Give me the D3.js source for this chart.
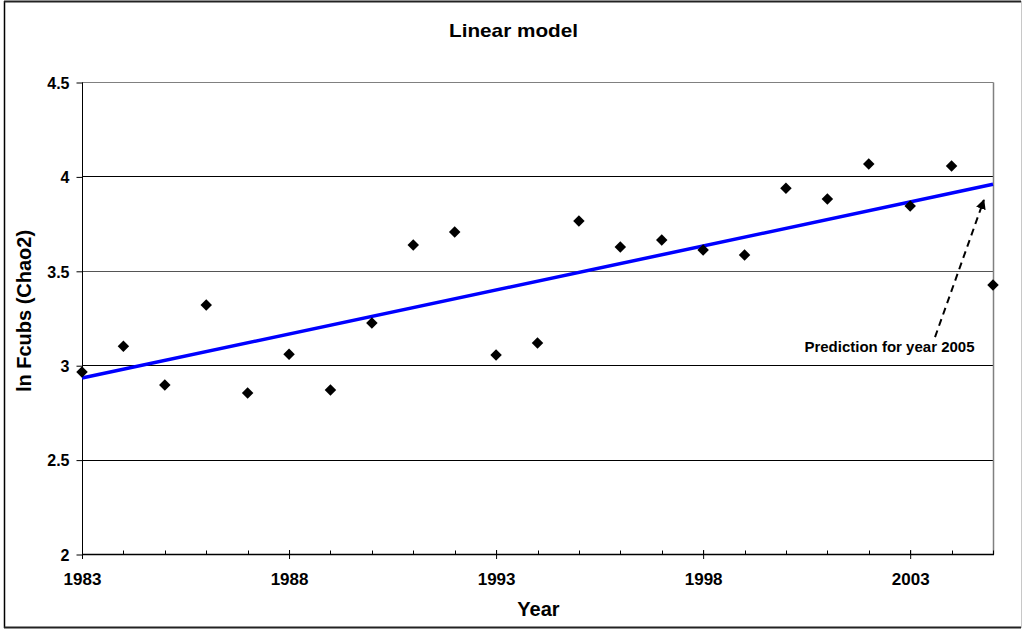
<!DOCTYPE html>
<html>
<head>
<meta charset="utf-8">
<script src="https://cdn.jsdelivr.net/npm/d3@7"></script>
<style>
  html, body { margin: 0; padding: 0; background: #fff; }
  svg { display: block; }
  text { font-family: "Liberation Sans", Arial, sans-serif; font-weight: bold; fill: #000; }
</style>
</head>
<body>
<svg id="chart" width="1023" height="630"></svg>
<script>
// ---- data ----
const years = [1983,1984,1985,1986,1987,1988,1989,1990,1991,1992,1993,1994,1995,1996,1997,1998,1999,2000,2001,2002,2003,2004,2005];
const lnFcubs = [2.964,3.100,2.895,3.319,2.853,3.058,2.869,3.224,3.637,3.706,3.054,3.118,3.764,3.626,3.663,3.610,3.584,3.937,3.880,4.066,3.843,4.055,3.425];
const trendYears = [1983, 2005];
const trendValues = [2.932, 3.958];
const yTicks = [2, 2.5, 3, 3.5, 4, 4.5];
const yTickLabels = ["2", "2.5", "3", "3.5", "4", "4.5"];
const xMajorTicks = [1983, 1988, 1993, 1998, 2003];
const xTickLabels = ["1983", "1988", "1993", "1998", "2003"];
const titleText = "Linear model";
const xTitle = "Year";
const yTitle = "ln Fcubs (Chao2)";
const noteText = "Prediction for year 2005";
const noteArrow = [[2003.6, 3.149], [2004.78, 3.875]];
const noteAnchor = [2002.5, 3.07];

// ---- layout ----
const svg = d3.select("#chart");
const L = 82, R = 993, T = 82, B = 554;
const x = d3.scaleLinear().domain([1983, 2005]).range([L, R]);
const y = d3.scaleLinear().domain([2, 4.5]).range([B, T]);

// outer frame
svg.append("line").attr("x1", 4.5).attr("y1", 1).attr("x2", 4.5).attr("y2", 628).attr("stroke", "#000").attr("stroke-width", 1.5);
svg.append("line").attr("x1", 4).attr("y1", 1.5).attr("x2", 1021).attr("y2", 1.5).attr("stroke", "#222").attr("stroke-width", 2);
svg.append("line").attr("x1", 4).attr("y1", 627.5).attr("x2", 1021).attr("y2", 627.5).attr("stroke", "#222").attr("stroke-width", 2);
svg.append("line").attr("x1", 1021.5).attr("y1", 1).attr("x2", 1021.5).attr("y2", 628).attr("stroke", "#c8c8c8").attr("stroke-width", 1);

// gridlines
svg.append("g").selectAll("line").data(yTicks.filter(d => d > 2 && d < 4.5)).join("line")
  .attr("x1", L).attr("x2", R)
  .attr("y1", d => Math.round(y(d)) + 0.5).attr("y2", d => Math.round(y(d)) + 0.5)
  .attr("stroke", d => d === 3.5 ? "#555" : "#000").attr("stroke-width", 1);
// top and right plot border
svg.append("line").attr("x1", L).attr("x2", R + 0.5).attr("y1", Math.round(y(4.5)) + 0.5).attr("y2", Math.round(y(4.5)) + 0.5).attr("stroke", "#808080");
svg.append("line").attr("x1", R + 0.5).attr("x2", R + 0.5).attr("y1", Math.round(y(4.5)) + 0.5).attr("y2", B + 0.5).attr("stroke", "#808080").attr("stroke-width", 1.5);

// y axis
const yAxis = d3.axisLeft(y).tickValues(yTicks).tickFormat((d, i) => yTickLabels[i]).tickSize(6).tickPadding(7);
const gy = svg.append("g").attr("transform", `translate(${L + 0.5},0.5)`).call(yAxis);
gy.select(".domain").attr("stroke", "#000").attr("d", `M0,${T}V${B}`);
gy.selectAll(".tick line").attr("stroke", "#000");
gy.selectAll(".tick text").attr("font-size", 16).attr("font-family", "Liberation Sans, Arial, sans-serif").attr("font-weight", "bold").attr("fill", "#000").attr("dy", "0.36em");

// x axis: minor ticks inside
const gx = svg.append("g").attr("transform", `translate(0,${B + 0.5})`);
gx.append("line").attr("x1", L).attr("x2", R + 1).attr("y1", 0).attr("y2", 0).attr("stroke", "#000").attr("stroke-width", 1.5);
gx.selectAll(".minor").data(years).join("line").attr("class", "minor")
  .attr("x1", d => Math.round(x(d)) + 0.5).attr("x2", d => Math.round(x(d)) + 0.5)
  .attr("y1", -4).attr("y2", 0).attr("stroke", "#000");
const xAxis = d3.axisBottom(x).tickValues(xMajorTicks).tickFormat((d, i) => xTickLabels[i]).tickSizeInner(5).tickSizeOuter(0).tickPadding(14);
const gxa = svg.append("g").attr("transform", `translate(0,${B})`).call(xAxis);
gxa.select(".domain").remove();
gxa.selectAll(".tick line").attr("stroke", "#000").attr("y1", -4).attr("y2", 5);
gxa.selectAll(".tick text").attr("font-size", 17).attr("font-family", "Liberation Sans, Arial, sans-serif").attr("font-weight", "bold").attr("fill", "#000");

// trend line
svg.append("path")
  .datum(trendYears.map((d, i) => [d, trendValues[i]]))
  .attr("d", d3.line().x(d => x(d[0])).y(d => y(d[1])))
  .attr("fill", "none").attr("stroke", "#0000ff").attr("stroke-width", 3.5);

// points
svg.append("g").selectAll("path").data(years.map((d, i) => [d, lnFcubs[i]])).join("path")
  .attr("d", d3.symbol(d3.symbolSquare, 66))
  .attr("transform", d => `translate(${x(d[0])},${y(d[1])}) rotate(45)`)
  .attr("fill", "#000");

// annotation arrow
const defs = svg.append("defs");
defs.append("marker").attr("id", "ah").attr("viewBox", "0 0 10 10").attr("refX", 9).attr("refY", 5)
  .attr("markerWidth", 5).attr("markerHeight", 5).attr("markerUnits", "strokeWidth").attr("orient", "auto")
  .append("path").attr("d", "M0,0L10,5L0,10Z").attr("fill", "#000");
svg.append("line")
  .attr("x1", x(noteArrow[0][0])).attr("y1", y(noteArrow[0][1]))
  .attr("x2", x(noteArrow[1][0])).attr("y2", y(noteArrow[1][1]))
  .attr("stroke", "#000").attr("stroke-width", 2).attr("stroke-dasharray", "7,5")
  .attr("marker-end", "url(#ah)");
svg.append("text").attr("x", x(noteAnchor[0])).attr("y", y(noteAnchor[1]))
  .attr("text-anchor", "middle").attr("font-size", 15).text(noteText);

// titles
svg.append("text").attr("x", 513.5).attr("y", 37).attr("text-anchor", "middle")
  .attr("font-size", 19).attr("textLength", 129).attr("lengthAdjust", "spacingAndGlyphs").text(titleText);
svg.append("text").attr("x", (L + R) / 2 + 1).attr("y", 616).attr("text-anchor", "middle")
  .attr("font-size", 20).text(xTitle);
svg.append("text").attr("transform", `translate(31,${(T + B) / 2 - 7}) rotate(-90)`).attr("text-anchor", "middle")
  .attr("font-size", 20).text(yTitle);
</script>
</body>
</html>
